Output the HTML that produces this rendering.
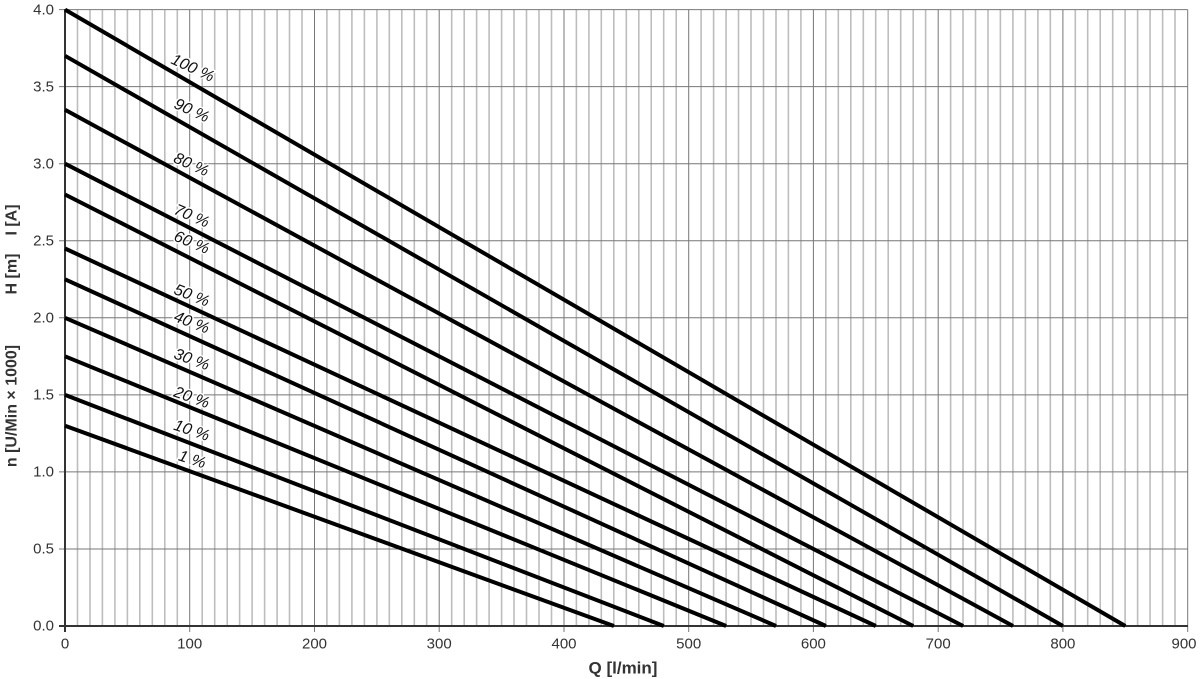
<!DOCTYPE html>
<html><head><meta charset="utf-8"><style>
html,body{margin:0;padding:0;background:#fff;}
svg{display:block;font-family:"Liberation Sans",Arial,sans-serif;}
</style></head><body>
<svg width="1200" height="679" viewBox="0 0 1200 679" xmlns="http://www.w3.org/2000/svg">
<rect width="1200" height="679" fill="#fff"/>
<g stroke="#bdbdbd" stroke-width="1.6">
<line x1="77.5" y1="9.6" x2="77.5" y2="626"/><line x1="90" y1="9.6" x2="90" y2="626"/><line x1="102.4" y1="9.6" x2="102.4" y2="626"/><line x1="114.9" y1="9.6" x2="114.9" y2="626"/><line x1="127.4" y1="9.6" x2="127.4" y2="626"/><line x1="139.8" y1="9.6" x2="139.8" y2="626"/><line x1="152.3" y1="9.6" x2="152.3" y2="626"/><line x1="164.8" y1="9.6" x2="164.8" y2="626"/><line x1="177.3" y1="9.6" x2="177.3" y2="626"/>
<line x1="202.2" y1="9.6" x2="202.2" y2="626"/><line x1="214.7" y1="9.6" x2="214.7" y2="626"/><line x1="227.2" y1="9.6" x2="227.2" y2="626"/><line x1="239.6" y1="9.6" x2="239.6" y2="626"/><line x1="252.1" y1="9.6" x2="252.1" y2="626"/><line x1="264.6" y1="9.6" x2="264.6" y2="626"/><line x1="277.1" y1="9.6" x2="277.1" y2="626"/><line x1="289.5" y1="9.6" x2="289.5" y2="626"/><line x1="302" y1="9.6" x2="302" y2="626"/>
<line x1="326.9" y1="9.6" x2="326.9" y2="626"/><line x1="339.4" y1="9.6" x2="339.4" y2="626"/><line x1="351.9" y1="9.6" x2="351.9" y2="626"/><line x1="364.4" y1="9.6" x2="364.4" y2="626"/><line x1="376.9" y1="9.6" x2="376.9" y2="626"/><line x1="389.3" y1="9.6" x2="389.3" y2="626"/><line x1="401.8" y1="9.6" x2="401.8" y2="626"/><line x1="414.3" y1="9.6" x2="414.3" y2="626"/><line x1="426.7" y1="9.6" x2="426.7" y2="626"/>
<line x1="451.7" y1="9.6" x2="451.7" y2="626"/><line x1="464.2" y1="9.6" x2="464.2" y2="626"/><line x1="476.6" y1="9.6" x2="476.6" y2="626"/><line x1="489.1" y1="9.6" x2="489.1" y2="626"/><line x1="501.6" y1="9.6" x2="501.6" y2="626"/><line x1="514" y1="9.6" x2="514" y2="626"/><line x1="526.5" y1="9.6" x2="526.5" y2="626"/><line x1="539" y1="9.6" x2="539" y2="626"/><line x1="551.5" y1="9.6" x2="551.5" y2="626"/>
<line x1="576.4" y1="9.6" x2="576.4" y2="626"/><line x1="588.9" y1="9.6" x2="588.9" y2="626"/><line x1="601.3" y1="9.6" x2="601.3" y2="626"/><line x1="613.8" y1="9.6" x2="613.8" y2="626"/><line x1="626.3" y1="9.6" x2="626.3" y2="626"/><line x1="638.8" y1="9.6" x2="638.8" y2="626"/><line x1="651.2" y1="9.6" x2="651.2" y2="626"/><line x1="663.7" y1="9.6" x2="663.7" y2="626"/><line x1="676.2" y1="9.6" x2="676.2" y2="626"/>
<line x1="701.1" y1="9.6" x2="701.1" y2="626"/><line x1="713.6" y1="9.6" x2="713.6" y2="626"/><line x1="726.1" y1="9.6" x2="726.1" y2="626"/><line x1="738.5" y1="9.6" x2="738.5" y2="626"/><line x1="751" y1="9.6" x2="751" y2="626"/><line x1="763.5" y1="9.6" x2="763.5" y2="626"/><line x1="776" y1="9.6" x2="776" y2="626"/><line x1="788.4" y1="9.6" x2="788.4" y2="626"/><line x1="800.9" y1="9.6" x2="800.9" y2="626"/>
<line x1="825.8" y1="9.6" x2="825.8" y2="626"/><line x1="838.3" y1="9.6" x2="838.3" y2="626"/><line x1="850.8" y1="9.6" x2="850.8" y2="626"/><line x1="863.3" y1="9.6" x2="863.3" y2="626"/><line x1="875.7" y1="9.6" x2="875.7" y2="626"/><line x1="888.2" y1="9.6" x2="888.2" y2="626"/><line x1="900.7" y1="9.6" x2="900.7" y2="626"/><line x1="913.2" y1="9.6" x2="913.2" y2="626"/><line x1="925.6" y1="9.6" x2="925.6" y2="626"/>
<line x1="950.6" y1="9.6" x2="950.6" y2="626"/><line x1="963" y1="9.6" x2="963" y2="626"/><line x1="975.5" y1="9.6" x2="975.5" y2="626"/><line x1="988" y1="9.6" x2="988" y2="626"/><line x1="1000.4" y1="9.6" x2="1000.4" y2="626"/><line x1="1012.9" y1="9.6" x2="1012.9" y2="626"/><line x1="1025.4" y1="9.6" x2="1025.4" y2="626"/><line x1="1037.9" y1="9.6" x2="1037.9" y2="626"/><line x1="1050.3" y1="9.6" x2="1050.3" y2="626"/>
<line x1="1075.3" y1="9.6" x2="1075.3" y2="626"/><line x1="1087.7" y1="9.6" x2="1087.7" y2="626"/><line x1="1100.2" y1="9.6" x2="1100.2" y2="626"/><line x1="1112.7" y1="9.6" x2="1112.7" y2="626"/><line x1="1125.1" y1="9.6" x2="1125.1" y2="626"/><line x1="1137.6" y1="9.6" x2="1137.6" y2="626"/><line x1="1150.1" y1="9.6" x2="1150.1" y2="626"/><line x1="1162.6" y1="9.6" x2="1162.6" y2="626"/><line x1="1175" y1="9.6" x2="1175" y2="626"/>
</g>
<g stroke="#777" stroke-width="1">
<line x1="189.7" y1="9.6" x2="189.7" y2="632"/><line x1="314.5" y1="9.6" x2="314.5" y2="632"/><line x1="439.2" y1="9.6" x2="439.2" y2="632"/><line x1="564" y1="9.6" x2="564" y2="632"/><line x1="688.7" y1="9.6" x2="688.7" y2="632"/><line x1="813.4" y1="9.6" x2="813.4" y2="632"/><line x1="938.2" y1="9.6" x2="938.2" y2="632"/><line x1="1062.9" y1="9.6" x2="1062.9" y2="632"/><line x1="1187.7" y1="9.6" x2="1187.7" y2="632"/>
<line x1="59" y1="9.6" x2="1187.7" y2="9.6"/><line x1="59" y1="86.6" x2="1187.7" y2="86.6"/><line x1="59" y1="163.7" x2="1187.7" y2="163.7"/><line x1="59" y1="240.8" x2="1187.7" y2="240.8"/><line x1="59" y1="317.8" x2="1187.7" y2="317.8"/><line x1="59" y1="394.9" x2="1187.7" y2="394.9"/><line x1="59" y1="471.9" x2="1187.7" y2="471.9"/><line x1="59" y1="549" x2="1187.7" y2="549"/>
</g>
<g stroke="#333" stroke-width="2">
<line x1="65" y1="9" x2="65" y2="632"/><line x1="59" y1="626" x2="1188" y2="626"/>
</g>
<g stroke="#000" stroke-width="4" stroke-linecap="butt">
<line x1="65" y1="9.6" x2="1125.3" y2="626"/>
<line x1="65" y1="55.8" x2="1062.9" y2="626"/>
<line x1="65" y1="109.8" x2="1013" y2="626"/>
<line x1="65" y1="163.7" x2="963.1" y2="626"/>
<line x1="65" y1="194.5" x2="913.2" y2="626"/>
<line x1="65" y1="248.5" x2="875.8" y2="626"/>
<line x1="65" y1="279.3" x2="825.9" y2="626"/>
<line x1="65" y1="317.8" x2="776" y2="626"/>
<line x1="65" y1="356.3" x2="726.1" y2="626"/>
<line x1="65" y1="394.9" x2="663.8" y2="626"/>
<line x1="65" y1="425.7" x2="613.9" y2="626"/>
</g>
<g font-size="16" font-style="italic" fill="#111" text-anchor="middle" dominant-baseline="central" stroke="#fff" stroke-width="3" paint-order="stroke">
<text transform="translate(192.5,68.5) rotate(25)">100 %</text>
<text transform="translate(191.5,111) rotate(24.5)">90 %</text>
<text transform="translate(191,165) rotate(24)">80 %</text>
<text transform="translate(191.5,216.5) rotate(23)">70 %</text>
<text transform="translate(191.5,243) rotate(22.5)">60 %</text>
<text transform="translate(191.5,296) rotate(21.5)">50 %</text>
<text transform="translate(191.5,323) rotate(21)">40 %</text>
<text transform="translate(191.5,360) rotate(20)">30 %</text>
<text transform="translate(191.5,398) rotate(19.5)">20 %</text>
<text transform="translate(191.5,431) rotate(19)">10 %</text>
<text transform="translate(192,460) rotate(18)">1 %</text>
</g>
<g font-size="15" fill="#333" text-anchor="end" dominant-baseline="central">
<text x="54" y="10">4.0</text><text x="54" y="87">3.5</text><text x="54" y="164">3.0</text><text x="54" y="241">2.5</text><text x="54" y="318">2.0</text><text x="54" y="395">1.5</text><text x="54" y="472">1.0</text><text x="54" y="549">0.5</text><text x="54" y="626">0.0</text>
</g>
<g font-size="15" fill="#333" text-anchor="middle" dominant-baseline="central">
<text x="65" y="644">0</text><text x="189.7" y="644">100</text><text x="314.5" y="644">200</text><text x="439.2" y="644">300</text><text x="564" y="644">400</text><text x="688.7" y="644">500</text><text x="813.4" y="644">600</text><text x="938.2" y="644">700</text><text x="1062.9" y="644">800</text><text x="1184" y="644">900</text>
</g>
<text x="623" y="668" font-size="17" font-weight="bold" fill="#333" text-anchor="middle" dominant-baseline="central">Q [l/min]</text>
<g font-size="16" font-weight="bold" fill="#333" text-anchor="middle" dominant-baseline="central">
<text transform="translate(12,220) rotate(-90)">I [A]</text>
<text transform="translate(12,274) rotate(-90)">H [m]</text>
<text transform="translate(12,406) rotate(-90)">n [U/Min × 1000]</text>
</g>
</svg>
</body></html>
